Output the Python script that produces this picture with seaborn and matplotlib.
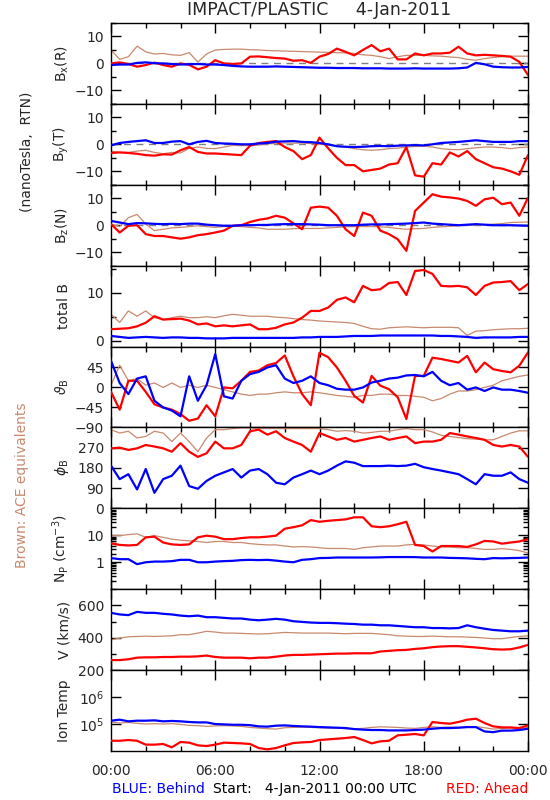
import numpy as np
import seaborn as sns
import matplotlib.pyplot as plt
from matplotlib.ticker import MultipleLocator, LogLocator, NullFormatter, NullLocator

# time grid, hours after 4-Jan-2011 00:00 UTC (30 min steps)
hours = np.arange(0, 24.5, 0.5)

# ---- magnetic field, RTN (nT) ----
bx_blue = [-0.6, -0.4, -0.4, 0.2, 0.4, 0.1, 0.0, -0.2, -0.4, -0.3,
           -0.2, -0.4, -0.4, -0.6, -0.9, -1.1, -1.2, -1.2, -1.2, -1.1,
           -1.2, -1.3, -1.4, -1.5, -1.6, -1.6, -1.7, -1.7, -1.7, -1.8,
           -1.8, -1.8, -1.9, -1.9, -1.9, -1.8, -1.9, -1.9, -1.9, -1.9,
           -1.8, -1.5, 0.2, -0.3, -1.2, -1.4, -1.5, -1.5, -1.3]
bx_red = [0.0, 0.4, -0.2, -1.2, -0.6, 0.3, -0.6, -1.2, 0.0, -0.5,
          -2.2, -1.2, 1.2, 0.0, -0.2, 0.0, 2.5, 2.6, 2.3, 2.0,
          1.8, 1.0, 1.2, 0.2, 2.5, 3.5, 5.5, 4.3, 3.0, 5.0,
          6.8, 4.5, 5.5, 1.5, 1.5, 3.7, 3.0, 3.7, 3.7, 4.0,
          6.2, 3.7, 3.0, 3.2, 3.0, 2.8, 2.5, 0.6, -4.3]
bx_brown = [5.0, 1.5, 2.5, 6.4, 4.3, 3.5, 3.7, 3.2, 3.0, 4.0,
            0.5, 3.5, 5.0, 5.2, 5.3, 5.3, 5.1, 5.0, 4.8, 4.7,
            4.6, 4.5, 4.4, 4.3, 4.2, 4.1, 4.0, 3.9, 3.7, 3.2,
            3.0, 2.5, 1.8, 2.5, 3.0, 3.0, 3.0, 2.8, 2.7, 2.4,
            2.2, 1.5, 1.2, 1.8, 2.2, 2.5, 2.7, 2.7, 2.7]

by_blue = [-0.4, 0.5, 0.9, 1.2, 1.5, 0.5, 0.5, 1.0, 1.2, 0.0,
           0.9, 1.3, 0.5, 0.3, 0.2, 0.0, 0.0, 0.3, 0.5, 1.0,
           1.1, 1.2, 0.9, 0.8, 0.5, 0.0, -0.7, -0.9, -1.0, -0.9,
           -0.7, -0.6, -0.7, -0.5, -0.4, -0.3, -0.4, 0.0, 0.5, 0.7,
           0.9, 1.2, 1.5, 1.2, 0.9, 0.9, 0.9, 1.2, 1.2]
by_red = [-3.2, -3.0, -3.2, -3.5, -4.0, -4.2, -3.7, -3.8, -2.2, -1.0,
          -2.8, -3.4, -3.4, -3.6, -3.8, -4.0, -0.5, 0.5, 0.9, 1.2,
          -1.0, -2.5, -5.5, -4.0, 2.5, -1.5, -5.0, -7.7, -7.7, -10.0,
          -9.5, -9.0, -7.5, -7.0, -1.0, -11.5, -12.0, -7.0, -7.5, -3.0,
          -4.5, -2.5, -5.5, -7.0, -8.5, -9.0, -10.0, -11.3, -4.0]
by_brown = [-2.5, -3.0, -3.0, -2.5, -2.2, -3.0, -3.5, -3.0, -3.2, -1.5,
            -1.0, -1.5, -1.6, -1.0, -0.4, -0.5, -0.4, -0.3, 0.2, 0.3,
            0.5, 0.4, 0.5, 0.3, 0.0, -0.3, -0.7, -1.0, -1.6, -2.0,
            -2.2, -2.0, -1.6, -1.4, -1.0, -0.8, -0.7, -1.0, -1.6, -1.9,
            -2.0, -1.6, -1.3, -1.0, -1.0, -1.2, -1.6, -1.2, -1.0]

bz_blue = [1.6, 1.0, 0.4, 0.8, 0.7, 0.5, 0.4, 0.5, 0.4, 0.6,
           0.6, 0.2, 0.0, -0.2, -0.2, 0.0, 0.0, 0.1, 0.1, 0.3,
           0.4, 0.4, 0.4, 0.3, 0.2, 0.0, 0.0, 0.0, 0.0, 0.2,
           0.3, 0.3, 0.4, 0.5, 0.6, 0.8, 1.0, 0.6, 0.4, 0.2,
           0.0, 0.2, 0.4, 0.2, 0.0, 0.0, 0.0, -0.1, -0.2]
bz_red = [0.4, -2.7, -0.2, 0.0, -3.3, -4.0, -4.0, -4.5, -5.0, -4.5,
          -3.7, -3.3, -2.7, -2.0, -0.2, 0.0, 1.2, 2.0, 2.5, 3.5,
          2.8, 0.7, -1.5, 6.5, 6.9, 6.5, 3.5, -1.5, -4.0, 4.7,
          3.5, -2.0, -3.3, -5.2, -9.5, 5.3, 8.4, 11.5, 10.6, 10.3,
          9.9, 9.0, 7.2, 9.6, 10.2, 7.8, 8.4, 3.5, 10.2]
bz_brown = [0.4, -0.5, 2.8, 4.0, 0.4, -2.0, -1.5, -1.0, -0.8, -0.5,
            -0.2, -0.5, -0.8, -0.5, -0.2, -0.5, -0.8, -1.0, -1.5, -1.5,
            -1.5, -1.3, -1.2, -1.2, -1.2, -1.0, -0.8, -0.6, -0.5, -0.5,
            -0.5, -0.6, -0.8, -1.2, -1.5, -1.3, -1.2, -0.8, -0.6, -0.4,
            -0.2, 0.0, 0.0, 0.2, 0.4, 0.6, 1.0, 1.1, 1.2]

btot_blue = [1.0, 0.8, 0.6, 0.7, 0.8, 0.7, 0.6, 0.7, 0.7, 0.6,
             0.6, 0.5, 0.5, 0.5, 0.6, 0.6, 0.6, 0.6, 0.6, 0.6,
             0.6, 0.6, 0.7, 0.7, 0.8, 0.8, 0.8, 0.9, 1.0, 1.0,
             1.0, 1.1, 1.1, 1.1, 1.1, 1.1, 1.1, 1.1, 1.0, 1.0,
             0.9, 0.8, 0.6, 0.7, 0.7, 0.7, 0.7, 0.8, 0.8]
btot_red = [2.4, 2.5, 2.6, 3.0, 3.75, 5.1, 4.4, 4.5, 4.6, 4.2,
            3.4, 3.6, 3.0, 3.2, 3.0, 3.2, 3.4, 2.4, 2.4, 2.7,
            3.4, 3.8, 4.8, 6.2, 6.2, 6.9, 8.5, 9.0, 8.0, 11.4,
            10.5, 10.7, 12.0, 12.2, 9.5, 14.5, 14.7, 13.9, 11.4, 11.3,
            11.4, 11.1, 9.5, 11.4, 12.1, 12.2, 12.4, 10.5, 11.8]
btot_brown = [5.5, 3.8, 6.2, 5.1, 6.2, 4.8, 4.4, 4.8, 5.1, 4.8,
              4.8, 5.0, 4.8, 5.2, 5.5, 5.3, 5.1, 5.1, 5.1, 4.9,
              4.8, 4.6, 4.4, 4.3, 4.1, 4.0, 3.9, 3.8, 3.6, 3.0,
              2.5, 2.4, 2.7, 2.8, 2.9, 2.8, 2.7, 2.8, 2.8, 2.8,
              2.7, 1.1, 2.0, 2.1, 2.3, 2.4, 2.5, 2.5, 2.6]

# ---- field angles (deg) ----
theta_blue = [60, 10, -15, 20, 25, -30, -45, -52, -65, 25,
              -30, 5, 75, -20, -25, 15, 30, 35, 45, 50,
              20, 10, 15, 25, 10, 5, -3, -5, -5, 0,
              11, 15, 20, 22, 27, 28, 25, 35, 15, 5,
              10, -5, 0, -8, 0, -5, -5, -8, -12]
theta_red = [-10, -50, 15, 15, -10, -38, -45, -50, -60, -75,
             -70, -40, -65, 0, -2, 15, 35, 38, 50, 55,
             72, 25, -15, -40, 78, 68, 45, 15, -19, -34,
             26, 4, -4, -22, -71, 26, 26, 67, 64, 60,
             56, 71, 34, 56, 41, 37, 34, 49, 79]
theta_brown = [5, 50, 15, 20, 5, 10, 0, 10, 0, 5,
               0, 5, 0, -5, -10, -15, -18, -15, -15, -12,
               -10, -12, -12, -10, -12, -15, -18, -20, -22, -18,
               -18, -15, -15, -18, -18, -20, -22, -30, -25, -15,
               -8, -8, -5, 0, 5, 15, 20, 25, 28]

phi_blue = [190, 130, 152, 84, 175, 69, 130, 145, 190, 99,
            87, 122, 145, 160, 175, 137, 168, 175, 152, 114,
            107, 137, 152, 168, 152, 168, 190, 209, 203, 188,
            188, 188, 190, 188, 190, 198, 183, 175, 168, 160,
            152, 130, 107, 152, 145, 145, 160, 130, 114]
phi_red = [267, 270, 260, 267, 282, 275, 267, 252, 290, 252,
           229, 245, 297, 267, 267, 282, 343, 350, 328, 343,
           313, 297, 282, 252, 335, 320, 305, 313, 297, 305,
           313, 320, 305, 313, 320, 290, 297, 297, 305, 335,
           328, 320, 313, 305, 282, 275, 282, 275, 229]
phi_brown = [350, 335, 343, 313, 320, 343, 335, 297, 335, 297,
             252, 313, 350, 350, 355, 358, 358, 355, 355, 355,
             355, 355, 355, 355, 355, 350, 343, 346, 343, 335,
             338, 343, 343, 350, 355, 350, 350, 340, 325, 320,
             315, 310, 308, 305, 305, 320, 335, 345, 345]

# ---- plasma ----
np_blue = [1.43, 1.3, 1.3, 0.85, 1.0, 1.06, 1.06, 1.1, 1.23, 1.23,
           1.0, 1.0, 1.06, 1.1, 1.13, 1.2, 1.23, 1.2, 1.23, 1.15,
           1.06, 1.0, 1.23, 1.3, 1.43, 1.45, 1.5, 1.5, 1.5, 1.5,
           1.5, 1.52, 1.56, 1.56, 1.56, 1.55, 1.5, 1.5, 1.5, 1.45,
           1.43, 1.4, 1.34, 1.3, 1.43, 1.4, 1.43, 1.45, 1.5]
np_red = [5.0, 4.4, 4.2, 4.4, 8.4, 8.9, 5.4, 4.6, 4.4, 4.6,
          8.4, 9.7, 8.9, 7.2, 7.2, 7.9, 8.4, 8.4, 8.9, 9.7,
          17.5, 20.0, 23.5, 36.6, 31.7, 34.5, 36.6, 38.9, 46.5, 46.5,
          21.6, 20.0, 21.6, 25.7, 31.7, 4.4, 4.0, 2.5, 4.0, 4.0,
          4.0, 3.7, 4.6, 6.2, 5.9, 4.9, 5.4, 5.9, 7.2]
np_brown = [9.7, 9.7, 10.6, 11.3, 8.4, 9.7, 8.4, 7.2, 6.6, 6.2,
            5.9, 5.4, 5.9, 5.9, 5.4, 5.4, 4.9, 4.6, 4.4, 4.4,
            4.0, 3.7, 3.8, 3.7, 3.45, 3.25, 3.25, 3.25, 3.0, 3.45,
            3.7, 4.0, 4.0, 4.0, 4.4, 4.6, 4.4, 4.0, 3.7, 3.7,
            3.45, 3.45, 3.25, 3.0, 3.0, 3.2, 3.0, 2.7, 2.2]

v_blue = [554, 544, 540, 560, 554, 554, 548, 544, 537, 533,
          537, 527, 527, 523, 519, 519, 512, 508, 512, 517,
          512, 502, 498, 494, 492, 492, 490, 487, 485, 481,
          481, 477, 477, 473, 469, 465, 465, 460, 460, 458,
          460, 477, 465, 456, 448, 444, 440, 440, 444]
v_red = [262, 262, 267, 277, 279, 279, 281, 281, 283, 283,
         285, 290, 281, 277, 277, 277, 273, 277, 277, 283,
         290, 294, 294, 296, 298, 300, 302, 302, 304, 304,
         304, 315, 319, 323, 325, 331, 335, 342, 346, 348,
         348, 344, 340, 335, 329, 327, 329, 340, 356]
v_brown = [387, 398, 406, 408, 410, 408, 410, 412, 419, 419,
           429, 440, 435, 429, 429, 427, 425, 423, 425, 429,
           433, 431, 429, 429, 429, 429, 427, 425, 427, 427,
           427, 423, 419, 412, 410, 408, 408, 410, 408, 406,
           406, 404, 402, 398, 394, 394, 402, 408, 412]

t_blue = [1.33e5, 1.45e5, 1.26e5, 1.33e5, 1.33e5, 1.37e5, 1.26e5, 1.30e5, 1.26e5, 1.19e5,
          1.15e5, 1.15e5, 1.00e5, 9.7e4, 9.4e4, 9.4e4, 9.1e4, 8.2e4, 8.0e4, 8.7e4,
          8.9e4, 8.5e4, 8.2e4, 8.0e4, 7.7e4, 7.5e4, 7.3e4, 7.1e4, 6.5e4, 6.2e4,
          6.0e4, 6.0e4, 5.8e4, 5.8e4, 5.8e4, 6.0e4, 6.2e4, 6.7e4, 7.1e4, 7.1e4,
          7.3e4, 7.7e4, 7.7e4, 5.3e4, 5.0e4, 5.7e4, 5.7e4, 6.0e4, 6.7e4]
t_red = [2.4e4, 2.4e4, 2.55e4, 2.4e4, 1.72e4, 1.72e4, 1.82e4, 1.37e4, 2.16e4, 2.04e4,
         1.62e4, 1.53e4, 1.72e4, 2.04e4, 1.98e4, 1.92e4, 1.82e4, 1.29e4, 1.15e4, 1.29e4,
         1.62e4, 1.98e4, 2.09e4, 2.16e4, 2.55e4, 2.7e4, 2.86e4, 3.03e4, 3.3e4, 2.55e4,
         1.92e4, 2.28e4, 2.4e4, 3.8e4, 4.03e4, 4.27e4, 3.8e4, 1.19e5, 1.09e5, 1.03e5,
         1.19e5, 1.45e5, 1.58e5, 1.09e5, 8.2e4, 7.5e4, 7.5e4, 7.1e4, 8.9e4]
t_brown = [1.19e5, 1.09e5, 1.15e5, 1.06e5, 1.0e5, 1.03e5, 1.0e5, 1.03e5, 9.7e4, 8.9e4,
           8.7e4, 8.2e4, 8.5e4, 8.7e4, 8.5e4, 8.2e4, 7.5e4, 7.1e4, 6.7e4, 6.5e4,
           7.3e4, 7.5e4, 7.7e4, 7.5e4, 7.3e4, 7.1e4, 7.1e4, 6.7e4, 6.7e4, 6.9e4,
           7.5e4, 7.9e4, 7.7e4, 7.5e4, 7.1e4, 6.9e4, 7.5e4, 7.9e4, 7.5e4, 7.7e4,
           7.5e4, 7.7e4, 8.0e4, 7.3e4, 6.5e4, 6.9e4, 7.1e4, 6.9e4, 7.3e4]

x_tick_labels = ["00:00", "06:00", "12:00", "18:00", "00:00"]

BLUE = "#0000FF"
RED = "#FF0000"
BROWN = "#C8896E"

panels = [
    (r"B$_\mathregular{x}$(R)", bx_brown, bx_red, bx_blue),
    (r"B$_\mathregular{y}$(T)", by_brown, by_red, by_blue),
    (r"B$_\mathregular{z}$(N)", bz_brown, bz_red, bz_blue),
    ("total B", btot_brown, btot_red, btot_blue),
    (r"$\vartheta_\mathregular{B}$", theta_brown, theta_red, theta_blue),
    (r"$\phi_\mathregular{B}$", phi_brown, phi_red, phi_blue),
    (r"N$_\mathregular{P}$ (cm$^{-3}$)", np_brown, np_red, np_blue),
    ("V (km/s)", v_brown, v_red, v_blue),
    ("Ion Temp", t_brown, t_red, t_blue),
]

sns.set_style("ticks")
plt.rcParams["font.family"] = ["DejaVu Sans"]
plt.rcParams["font.size"] = 10
plt.rcParams["axes.linewidth"] = 1.0

fig, axes = plt.subplots(9, 1, figsize=(5.5, 8), dpi=100, sharex=True)
fig.subplots_adjust(left=111 / 550, right=528 / 550, top=1 - 23 / 800,
                    bottom=1 - 751 / 800, hspace=0)

for i, (ax, (label, brown, red, blue)) in enumerate(zip(axes, panels)):
    if i < 3:
        ax.axhline(0, color="#808080", ls=(0, (5, 4)), lw=1.0, zorder=1)
    sns.lineplot(x=hours, y=brown, ax=ax, color=BROWN, lw=0.9, estimator=None, zorder=2)
    sns.lineplot(x=hours, y=red, ax=ax, color=RED, lw=1.6, estimator=None, zorder=3)
    sns.lineplot(x=hours, y=blue, ax=ax, color=BLUE, lw=1.6, estimator=None, zorder=4)

    ax.set_ylabel(label, fontsize=10)
    ax.yaxis.set_label_coords(-0.095, 0.5)
    ax.set_xlim(0, 24)
    ax.xaxis.set_major_locator(MultipleLocator(6))
    ax.xaxis.set_minor_locator(MultipleLocator(2))
    ax.tick_params(which="both", direction="in", top=True, right=True,
                   width=1.0, color="black", labelsize=10)
    ax.tick_params(which="major", length=7)
    ax.tick_params(which="minor", length=3.5)
    ax.tick_params(axis="y", pad=5)
    for s in ax.spines.values():
        s.set_color("black")

# y scales and ticks
for ax in axes[:3]:
    ax.set_ylim(-15, 15)
    ax.set_yticks([-10, 0, 10])
    ax.yaxis.set_minor_locator(MultipleLocator(5))

axes[3].set_ylim(-1.2, 15.6)
axes[3].set_yticks([0, 10])
axes[3].yaxis.set_minor_locator(MultipleLocator(5))

axes[4].set_ylim(-90, 92)
axes[4].set_yticks([-90, -45, 0, 45])
axes[4].yaxis.set_minor_locator(NullLocator())

axes[5].set_ylim(0, 360)
axes[5].set_yticks([0, 90, 180, 270])
axes[5].yaxis.set_minor_locator(NullLocator())

axes[6].set_yscale("log")
axes[6].set_ylim(0.1, 100)
axes[6].set_yticks([1, 10], ["1", "10"])
axes[6].yaxis.set_minor_locator(LogLocator(base=10, subs=np.arange(2, 10)))
axes[6].yaxis.set_minor_formatter(NullFormatter())

axes[7].set_ylim(200, 700)
axes[7].set_yticks([200, 400, 600])
axes[7].yaxis.set_minor_locator(MultipleLocator(100))

axes[8].set_yscale("log")
axes[8].set_ylim(1e4, 1e7)
axes[8].set_yticks([1e5, 1e6], [r"10$^5$", r"10$^6$"])
axes[8].yaxis.set_minor_locator(NullLocator())

axes[8].set_xticks([0, 6, 12, 18, 24], x_tick_labels)
axes[8].tick_params(axis="x", pad=9)
for ax in axes[:-1]:
    ax.tick_params(axis="x", labelbottom=False)

fig.suptitle("IMPACT/PLASTIC     4-Jan-2011", x=(111 + 528) / 2 / 550,
             y=1 - 10 / 800, va="center", fontsize=12.5)

fig.text(27 / 550, 1 - 152 / 800, "(nanoTesla,  RTN)", rotation=90,
         ha="center", va="center", fontsize=10)
fig.text(22 / 550, 1 - 485 / 800, "Brown: ACE equivalents", rotation=90,
         ha="center", va="center", fontsize=10, color=BROWN)

fig.text(112 / 550, 1 - 789 / 800, "BLUE: Behind", color=BLUE,
         ha="left", va="center", fontsize=10)
fig.text(213 / 550, 1 - 789 / 800, "Start:   4-Jan-2011 00:00 UTC", color="black",
         ha="left", va="center", fontsize=10)
fig.text(528 / 550, 1 - 789 / 800, "RED: Ahead", color=RED,
         ha="right", va="center", fontsize=10)

fig.savefig("out.png", dpi=100, facecolor="white")
